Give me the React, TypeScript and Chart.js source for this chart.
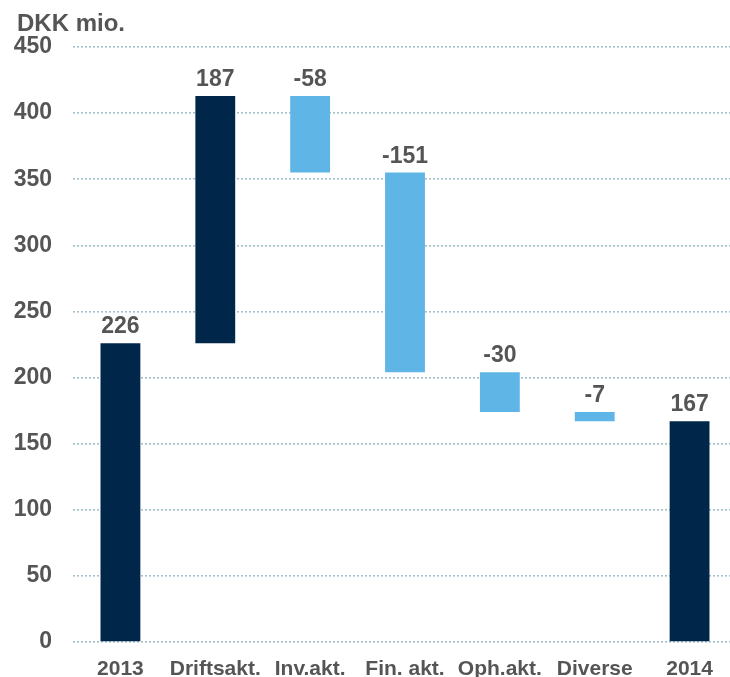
import React, { useEffect, useRef } from "react";
import { Chart, registerables } from "chart.js";

Chart.register(...registerables);

const categories = ["2013", "Driftsakt.", "Inv.akt.", "Fin. akt.", "Oph.akt.", "Diverse", "2014"];
const changes = [226, 187, -58, -151, -30, -7, 167];
const isTotal = [true, false, false, false, false, false, true];
const yTicks = [0, 50, 100, 150, 200, 250, 300, 350, 400, 450];
const unitLabel = "DKK mio.";

const DARK = "#00264a";
const LIGHT = "#5eb5e6";
const TEXT = "#555555";
const FONT = "'Liberation Sans', Arial, sans-serif";

export default function App() {
  const ref = useRef<HTMLCanvasElement | null>(null);

  useEffect(() => {
    if (!ref.current) return;
    let running = 0;
    const ranges: [number, number][] = changes.map((v, i) => {
      if (isTotal[i]) {
        running = v;
        return [0, v];
      }
      const start = running;
      running = running + v;
      return [start, running];
    });

    const labelPlugin = {
      id: "barLabels",
      afterDatasetsDraw(chart: any) {
        const ctx = chart.ctx;
        const meta = chart.getDatasetMeta(0);
        ctx.save();
        ctx.font = `bold 23px ${FONT}`;
        ctx.fillStyle = TEXT;
        ctx.textAlign = "center";
        ctx.textBaseline = "alphabetic";
        meta.data.forEach((el: any, i: number) => {
          const top = Math.min(el.y, el.base);
          ctx.fillText(String(changes[i]), el.x, top - 10);
        });
        ctx.restore();
      },
    };

    const titlePlugin = {
      id: "unitTitle",
      afterDraw(chart: any) {
        const ctx = chart.ctx;
        ctx.save();
        ctx.font = `bold 24px ${FONT}`;
        ctx.fillStyle = TEXT;
        ctx.textAlign = "left";
        ctx.textBaseline = "alphabetic";
        ctx.fillText(unitLabel, chart.chartArea.left - 56, chart.chartArea.top - 16);
        ctx.restore();
      },
    };

    const chart = new Chart(ref.current, {
      type: "bar",
      data: {
        labels: categories,
        datasets: [
          {
            data: ranges as any,
            backgroundColor: changes.map((_, i) => (isTotal[i] || i === 1 ? DARK : LIGHT)),
            borderWidth: 0,
            borderSkipped: false,
            barPercentage: 0.42,
            categoryPercentage: 1,
          },
        ],
      },
      options: {
        animation: false,
        responsive: false,
        maintainAspectRatio: false,
        layout: { padding: { top: 47, left: 0, right: 0, bottom: 0 } },
        plugins: {
          legend: { display: false },
          tooltip: { enabled: false },
          title: { display: false },
        },
        scales: {
          x: {
            grid: { display: false, drawTicks: false },
            border: { display: false },
            ticks: {
              color: TEXT,
              font: { family: FONT, size: 21, weight: "bold" },
              padding: 15,
              maxRotation: 0,
              autoSkip: false,
            },
            afterFit(scale: any) {
              scale.height = 35;
            },
          },
          y: {
            min: 0,
            max: 450,
            afterBuildTicks(scale: any) {
              scale.ticks = yTicks.map((v) => ({ value: v }));
            },
            grid: {
              color: "#a3bfcc",
              lineWidth: 1.6,
              drawTicks: false,
            },
            border: { display: false, dash: [2, 2] },
            ticks: {
              color: TEXT,
              font: { family: FONT, size: 23, weight: "bold" },
              padding: 21,
            },
            afterFit(scale: any) {
              scale.width = 73;
            },
          },
        },
      },
      plugins: [labelPlugin, titlePlugin],
    });
    return () => chart.destroy();
  }, []);

  return (
    <div style={{ position: "fixed", left: 0, top: 0, width: 730, height: 677, overflow: "hidden", background: "#fff" }}>
      <canvas ref={ref} width={737} height={677} style={{ display: "block", width: 737, height: 677 }} />
    </div>
  );
}
